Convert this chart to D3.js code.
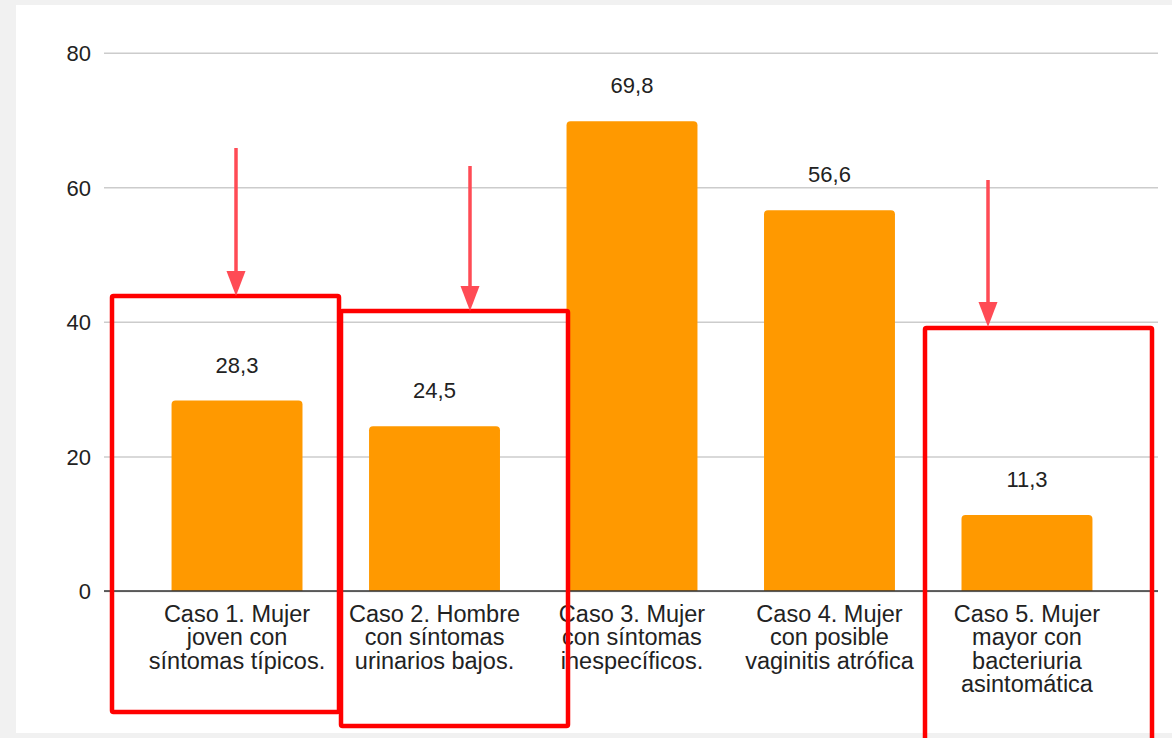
<!DOCTYPE html>
<html>
<head>
<meta charset="utf-8">
<script src="https://cdn.jsdelivr.net/npm/d3@7"></script>
<style>
  html, body { margin: 0; padding: 0; background: #f1f1f1; }
  svg { display: block; }
</style>
</head>
<body>
<svg id="chart" width="1172" height="738"></svg>
<script>
// Chart data
const categories = [
  "Caso 1. Mujer\njoven con\nsíntomas típicos.",
  "Caso 2. Hombre\ncon síntomas\nurinarios bajos.",
  "Caso 3. Mujer\ncon síntomas\ninespecíficos.",
  "Caso 4. Mujer\ncon posible\nvaginitis atrófica",
  "Caso 5. Mujer\nmayor con\nbacteriuria\nasintomática"
];
const values = [28.3, 24.5, 69.8, 56.6, 11.3];
const yTicks = [0, 20, 40, 60, 80];

// Highlight boxes and arrows (pixel layout of the annotation layer)
const highlightBoxes = [
  { x0: 112, y0: 296, x1: 339, y1: 712 },
  { x0: 341, y0: 311, x1: 568, y1: 726 },
  { x0: 925, y0: 328, x1: 1152, y1: 760 }
];
const arrows = [
  { x: 236, y0: 148, y1: 296 },
  { x: 470, y0: 166, y1: 311 },
  { x: 988, y0: 180, y1: 327 }
];

const svg = d3.select("#chart");
const W = 1172;

// white card
svg.append("rect").attr("x", 16).attr("y", 5).attr("width", W - 16).attr("height", 728).attr("fill", "#fff");

const plot = { left: 104, right: 1158, top: 52.7, bottom: 591 };

const x = d3.scaleBand()
  .domain(d3.range(categories.length))
  .range([plot.left + 1, plot.right + 1])
  .paddingInner(0.337)
  .paddingOuter(0.337);

const y = d3.scaleLinear().domain([0, 80]).range([plot.bottom, plot.top]);

const font = "'Liberation Sans', Arial, sans-serif";

// gridlines
const yAxis = d3.axisLeft(y).tickValues(yTicks).tickSize(-(plot.right - plot.left)).tickPadding(13).tickFormat(d3.format("d"));
const gAxis = svg.append("g").attr("transform", `translate(${plot.left},0)`).call(yAxis);
gAxis.select(".domain").remove();
gAxis.selectAll(".tick line").attr("stroke", "#cccccc").attr("stroke-width", 1.5);
gAxis.selectAll(".tick text")
  .attr("font-family", font).attr("font-size", 22).attr("fill", "#222").attr("dy", "0.36em");

// bars with rounded top corners
const r = 4;
function barPath(x0, w, yTop, yBase) {
  const rr = Math.min(r, (yBase - yTop));
  return `M${x0},${yBase}V${yTop + rr}Q${x0},${yTop} ${x0 + rr},${yTop}H${x0 + w - rr}Q${x0 + w},${yTop} ${x0 + w},${yTop + rr}V${yBase}Z`;
}
svg.append("g").selectAll("path")
  .data(values)
  .join("path")
  .attr("d", (d, i) => barPath(x(i), x.bandwidth(), y(d), y(0)))
  .attr("fill", "#ff9900");

// baseline
svg.append("line")
  .attr("x1", plot.left).attr("x2", plot.right)
  .attr("y1", y(0)).attr("y2", y(0))
  .attr("stroke", "#333").attr("stroke-width", 1.5);

// value labels
const fmt = v => d3.format(".1f")(v).replace(".", ",");
svg.append("g").selectAll("text")
  .data(values)
  .join("text")
  .attr("x", (d, i) => x(i) + x.bandwidth() / 2)
  .attr("y", d => y(d) - 28)
  .attr("text-anchor", "middle")
  .attr("font-family", font).attr("font-size", 22).attr("fill", "#222")
  .text(fmt);

// category labels
const catG = svg.append("g");
categories.forEach((c, i) => {
  const t = catG.append("text")
    .attr("text-anchor", "middle")
    .attr("font-family", font).attr("font-size", 23.5).attr("fill", "#222");
  c.split("\n").forEach((line, j) => {
    t.append("tspan")
      .attr("x", x(i) + x.bandwidth() / 2)
      .attr("y", y(0) + 30.5 + j * 23.5)
      .text(line);
  });
});

// annotation layer
const ann = svg.append("g");
ann.selectAll("rect")
  .data(highlightBoxes)
  .join("rect")
  .attr("x", d => d.x0).attr("y", d => d.y0)
  .attr("width", d => d.x1 - d.x0).attr("height", d => d.y1 - d.y0)
  .attr("rx", 1.5)
  .attr("fill", "none").attr("stroke", "#ff0000").attr("stroke-width", 4.5);

const arrowColor = "#ff4b55";
arrows.forEach(a => {
  ann.append("line")
    .attr("x1", a.x).attr("x2", a.x)
    .attr("y1", a.y0).attr("y2", a.y1 - 20)
    .attr("stroke", arrowColor).attr("stroke-width", 3.5);
  ann.append("path")
    .attr("d", `M${a.x - 9.5},${a.y1 - 25}L${a.x + 9.5},${a.y1 - 25}L${a.x},${a.y1}Z`)
    .attr("fill", arrowColor);
});
</script>
</body>
</html>
